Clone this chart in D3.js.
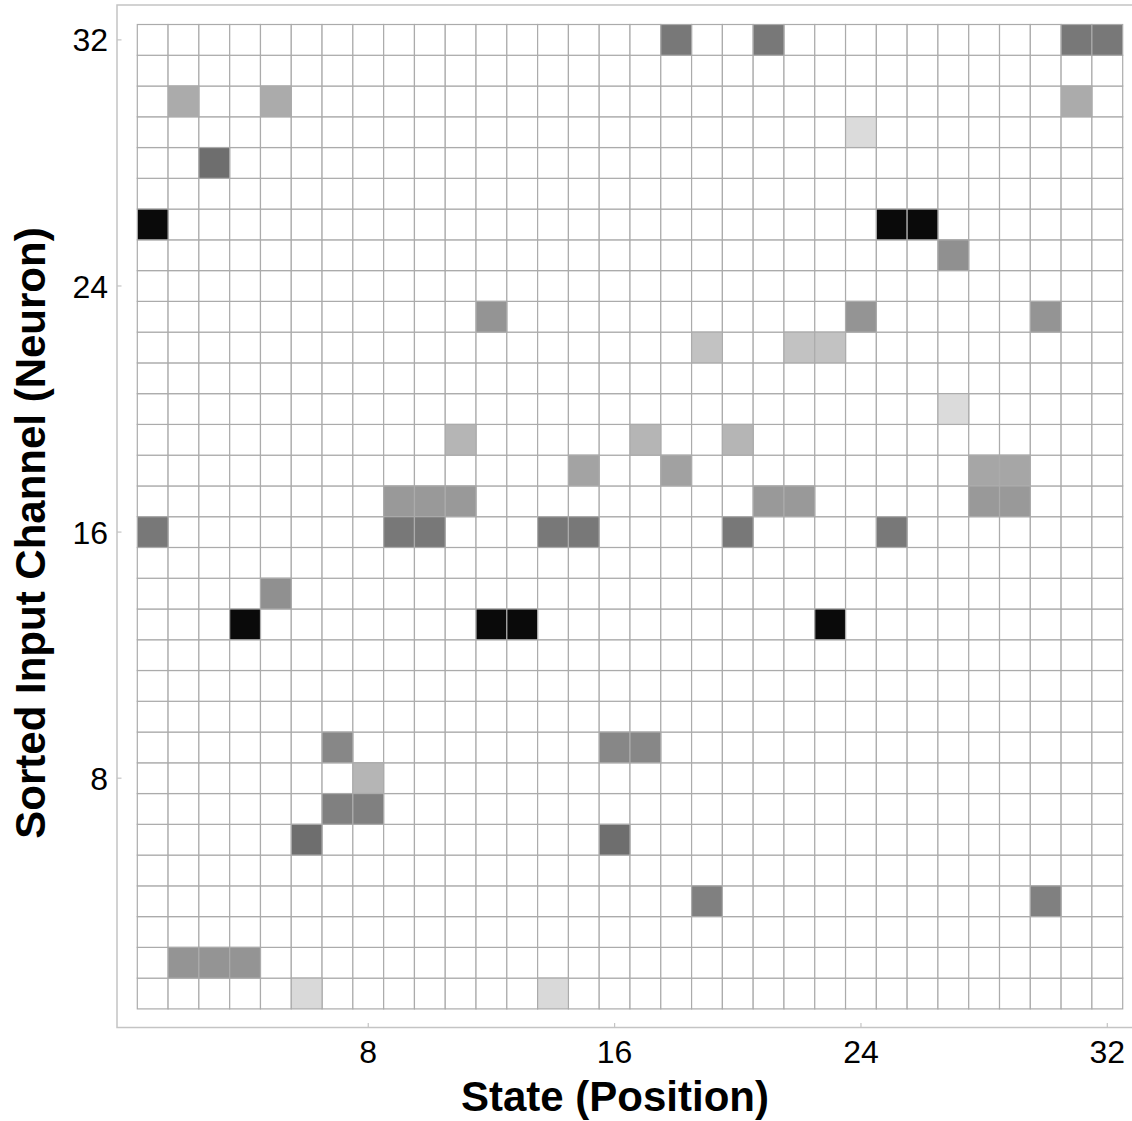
<!DOCTYPE html>
<html>
<head>
<meta charset="utf-8">
<script src="https://cdn.jsdelivr.net/npm/d3@7"></script>
<style>
  body { margin: 0; background: #fff; }
  text { font-family: "Liberation Sans", Arial, sans-serif; fill: #000; }
  .frame { fill: none; stroke: #c4c4c4; stroke-width: 1.5; }
  .tick { stroke: #c4c4c4; stroke-width: 1.2; }
  .cell { stroke: #ababab; stroke-width: 1.2; }
  .ticklabel { font-size: 32px; }
  .title { font-size: 42px; font-weight: bold; }
</style>
</head>
<body>
<script>
// non-empty cells: row (input channel), column (state), grey level 0..1
var cellRow = [32, 32, 32, 32,
               30, 30, 30,
               29, 28,
               26, 26, 26,
               25,
               23, 23, 23,
               22, 22, 22,
               20,
               19, 19, 19,
               18, 18, 18, 18,
               17, 17, 17, 17, 17, 17, 17,
               16, 16, 16, 16, 16, 16, 16,
               14,
               13, 13, 13, 13,
               9, 9, 9,
               8,
               7, 7,
               6, 6,
               4, 4,
               2, 2, 2,
               1, 1];
var cellCol = [18, 21, 31, 32,
               2, 5, 31,
               24, 3,
               1, 25, 26,
               27,
               12, 24, 30,
               19, 22, 23,
               27,
               11, 17, 20,
               15, 18, 28, 29,
               9, 10, 11, 21, 22, 28, 29,
               1, 9, 10, 14, 15, 20, 25,
               5,
               4, 12, 13, 23,
               7, 16, 17,
               8,
               7, 8,
               6, 16,
               19, 30,
               2, 3, 4,
               6, 14];
var cellLevel = [0.53, 0.53, 0.53, 0.53,
                 0.33, 0.33, 0.33,
                 0.14, 0.57,
                 0.96, 0.96, 0.96,
                 0.435,
                 0.42, 0.42, 0.42,
                 0.24, 0.24, 0.24,
                 0.14,
                 0.29, 0.29, 0.29,
                 0.36, 0.37, 0.35, 0.35,
                 0.40, 0.40, 0.40, 0.40, 0.40, 0.40, 0.40,
                 0.53, 0.53, 0.53, 0.53, 0.53, 0.53, 0.53,
                 0.435,
                 0.96, 0.96, 0.96, 0.96,
                 0.47, 0.47, 0.47,
                 0.29,
                 0.50, 0.50,
                 0.57, 0.57,
                 0.50, 0.50,
                 0.42, 0.42, 0.42,
                 0.15, 0.15];

var nStates = 32, nChannels = 32;
var tickValues = [8, 16, 24, 32];
var xTitle = "State (Position)",
    yTitle = "Sorted Input Channel (Neuron)";

var width = 1132,
    height = 1121;

var svg = d3.select("body").append("svg")
    .attr("width", width)
    .attr("height", height);

var states = d3.range(1, nStates + 1),
    channels = d3.range(1, nChannels + 1);

var x = d3.scaleBand()
    .domain(states)
    .range([137.3, 1122.7]);

var y = d3.scaleBand()
    .domain(channels)
    .range([1008.9, 24.5]);

var grey = d3.scaleLinear()
    .domain([0, 1])
    .range(["#ffffff", "#000000"]);

// full matrix, empty cells at level 0
var level = {};
cellRow.forEach(function(r, i) { level[r + "_" + cellCol[i]] = cellLevel[i]; });

var cells = [];
channels.forEach(function(r) {
  states.forEach(function(c) {
    cells.push({ row: r, col: c, v: level[r + "_" + c] || 0 });
  });
});

// white cells first so the dark ones' borders sit on top
cells.sort(function(a, b) { return a.v - b.v; });

svg.append("rect")
    .attr("class", "frame")
    .attr("x", 117)
    .attr("y", 5)
    .attr("width", 1040)
    .attr("height", 1022.5);

svg.selectAll(".cell")
    .data(cells)
  .enter().append("rect")
    .attr("class", "cell")
    .attr("x", function(d) { return x(d.col); })
    .attr("y", function(d) { return y(d.row); })
    .attr("width", x.bandwidth())
    .attr("height", y.bandwidth())
    .attr("fill", function(d) { return grey(d.v); });

// y ticks
svg.selectAll(".ytick")
    .data(tickValues)
  .enter().append("line")
    .attr("class", "tick")
    .attr("x1", 117).attr("x2", 121.5)
    .attr("y1", function(d) { return y(d) + y.bandwidth() / 2; })
    .attr("y2", function(d) { return y(d) + y.bandwidth() / 2; });

svg.selectAll(".ylabel")
    .data(tickValues)
  .enter().append("text")
    .attr("class", "ticklabel")
    .attr("x", 108)
    .attr("y", function(d) { return y(d) + y.bandwidth() / 2; })
    .attr("dy", "0.36em")
    .attr("text-anchor", "end")
    .text(function(d) { return d; });

// x ticks
svg.selectAll(".xtick")
    .data(tickValues)
  .enter().append("line")
    .attr("class", "tick")
    .attr("y1", 1027.5).attr("y2", 1023)
    .attr("x1", function(d) { return x(d) + x.bandwidth() / 2; })
    .attr("x2", function(d) { return x(d) + x.bandwidth() / 2; });

svg.selectAll(".xlabel")
    .data(tickValues)
  .enter().append("text")
    .attr("class", "ticklabel")
    .attr("x", function(d) { return x(d) + x.bandwidth() / 2; })
    .attr("y", 1063)
    .attr("text-anchor", "middle")
    .text(function(d) { return d; });

svg.append("text")
    .attr("class", "title")
    .attr("x", 615)
    .attr("y", 1111)
    .attr("text-anchor", "middle")
    .text(xTitle);

svg.append("text")
    .attr("class", "title")
    .attr("transform", "translate(45,533) rotate(-90)")
    .attr("text-anchor", "middle")
    .text(yTitle);
</script>
</body>
</html>
